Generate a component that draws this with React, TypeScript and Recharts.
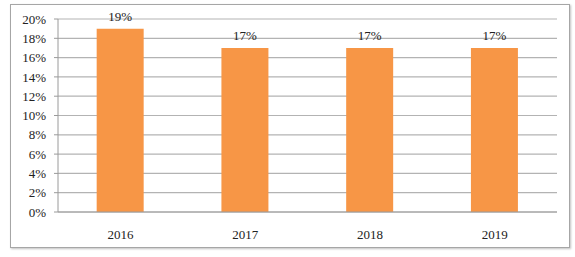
import React from 'react';
import { BarChart, Bar, XAxis, YAxis, CartesianGrid, LabelList } from 'recharts';

const years = ['2016', '2017', '2018', '2019'];
const shares = [19, 17, 17, 17];
const yTicks = [0, 2, 4, 6, 8, 10, 12, 14, 16, 18, 20];

const chartData = years.map((year, i) => ({ year, share: shares[i] }));

const font = '"Liberation Serif", "Times New Roman", serif';

const App: React.FC = () => {
  return (
    <div style={{ position: 'absolute', left: 0, top: 0, width: 575, height: 257, background: '#fff', fontFamily: font }}>
      <div
        style={{
          position: 'absolute',
          left: 10,
          top: 4,
          width: 558,
          height: 242,
          border: '1px solid #a6a6a6',
          boxShadow: '1px 1px 2px rgba(0,0,0,0.25)',
        }}
      />
      <div style={{ position: 'absolute', left: 0, top: 0 }}>
        <BarChart
          width={575}
          height={257}
          data={chartData}
          margin={{ top: 19, right: 18, left: 0, bottom: 0 }}
          barCategoryGap="31%"
        >
          <CartesianGrid vertical={false} stroke="#b3b3b3" strokeWidth={1.2} />
          <XAxis
            dataKey="year"
            stroke="#9a9a9a"
            tickLine={false}
            tick={{ fill: '#222', fontSize: 13, fontFamily: font }}
            tickMargin={12}
            height={45}
          />
          <YAxis
            width={58}
            domain={[0, 20]}
            ticks={yTicks}
            interval={0}
            stroke="#9a9a9a"
            tickSize={4}
            tickMargin={8}
            tickFormatter={(v: number) => `${v}%`}
            tick={{ fill: '#222', fontSize: 13, fontFamily: font }}
          />
          <Bar dataKey="share" fill="#F79646" isAnimationActive={false}>
            <LabelList
              dataKey="share"
              position="top"
              offset={8}
              formatter={(v: any) => `${v}%`}
              style={{ fill: '#222', fontSize: 13, fontFamily: font }}
            />
          </Bar>
        </BarChart>
      </div>
    </div>
  );
};

export default App;
